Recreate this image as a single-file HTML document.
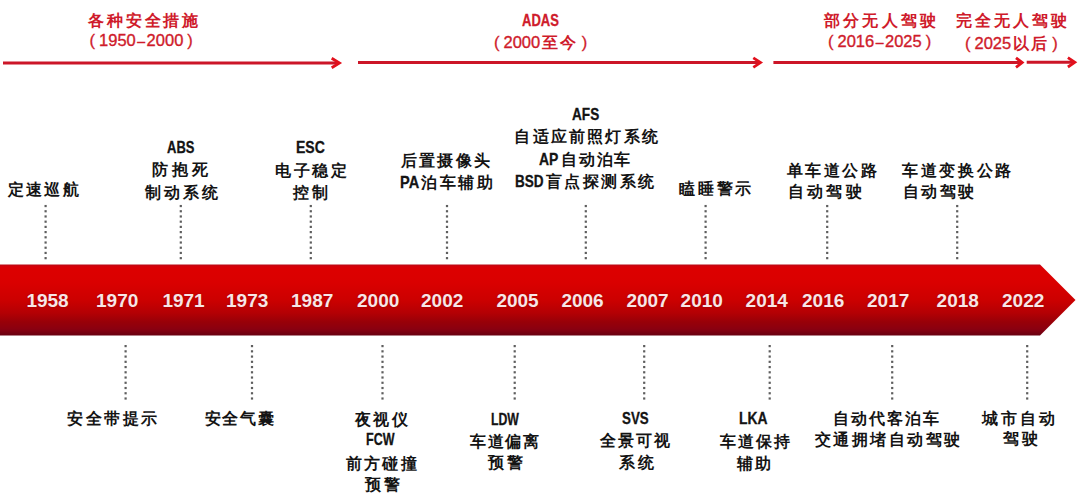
<!DOCTYPE html>
<html><head><meta charset="utf-8"><style>
html,body{margin:0;padding:0;background:#fff;width:1080px;height:493px;overflow:hidden}
#c{position:relative;width:1080px;height:493px}
svg{position:absolute;left:0;top:0}
.t{position:absolute;white-space:nowrap;font-family:"Liberation Sans",sans-serif;font-weight:bold;font-size:15.5px;line-height:16px;letter-spacing:2.5px;color:#141414}
.t .lat{display:inline-block;font-size:17.0px;letter-spacing:0;transform-origin:0 50%;-webkit-text-stroke:0.3px #141414}
.red{color:#cf1b2b;font-size:16px;letter-spacing:2.8px}
.red .lat{font-size:16px;-webkit-text-stroke:0.3px #cf1b2b}
.red .num{font-weight:normal;font-size:16.5px;letter-spacing:0;-webkit-text-stroke:0.35px #cf1b2b}
.dash{font-size:14px;margin:0 1.5px}
.pl,.pr{font-weight:normal;font-size:16.5px;letter-spacing:0;-webkit-text-stroke:0.3px #cf1b2b}
.pl{margin-right:4px} .pr{margin-left:4px}
.yr{color:#f8e6e6;font-size:19px;line-height:19px;letter-spacing:0;text-shadow:0 0 2px rgba(110,0,10,.55)}
</style></head><body><div id="c">
<svg width="1080" height="493" viewBox="0 0 1080 493">
<defs><linearGradient id="g" x1="0" y1="0" x2="0" y2="1">
<stop offset="0" stop-color="#b80c16"/><stop offset="0.03" stop-color="#d80008"/><stop offset="0.08" stop-color="#dc0000"/><stop offset="0.25" stop-color="#da0000"/><stop offset="0.5" stop-color="#cc0000"/><stop offset="0.68" stop-color="#b40004"/><stop offset="0.81" stop-color="#980008"/><stop offset="0.91" stop-color="#8a0010"/><stop offset="1" stop-color="#680010"/>
</linearGradient></defs>
<polygon points="0,264.6 1040,264.6 1075.5,300 1040,335.4 0,335.4" fill="url(#g)"/>
<g fill="#5e5e5e"><rect x="44.50" y="204.95" width="2.2" height="2.2"/><rect x="44.50" y="210.16" width="2.2" height="2.2"/><rect x="44.50" y="215.37" width="2.2" height="2.2"/><rect x="44.50" y="220.58" width="2.2" height="2.2"/><rect x="44.50" y="225.79" width="2.2" height="2.2"/><rect x="44.50" y="231.00" width="2.2" height="2.2"/><rect x="44.50" y="236.21" width="2.2" height="2.2"/><rect x="44.50" y="241.42" width="2.2" height="2.2"/><rect x="44.50" y="246.63" width="2.2" height="2.2"/><rect x="44.50" y="251.84" width="2.2" height="2.2"/><rect x="44.50" y="257.05" width="2.2" height="2.2"/><rect x="179.70" y="204.95" width="2.2" height="2.2"/><rect x="179.70" y="210.16" width="2.2" height="2.2"/><rect x="179.70" y="215.37" width="2.2" height="2.2"/><rect x="179.70" y="220.58" width="2.2" height="2.2"/><rect x="179.70" y="225.79" width="2.2" height="2.2"/><rect x="179.70" y="231.00" width="2.2" height="2.2"/><rect x="179.70" y="236.21" width="2.2" height="2.2"/><rect x="179.70" y="241.42" width="2.2" height="2.2"/><rect x="179.70" y="246.63" width="2.2" height="2.2"/><rect x="179.70" y="251.84" width="2.2" height="2.2"/><rect x="179.70" y="257.05" width="2.2" height="2.2"/><rect x="309.70" y="204.95" width="2.2" height="2.2"/><rect x="309.70" y="210.16" width="2.2" height="2.2"/><rect x="309.70" y="215.37" width="2.2" height="2.2"/><rect x="309.70" y="220.58" width="2.2" height="2.2"/><rect x="309.70" y="225.79" width="2.2" height="2.2"/><rect x="309.70" y="231.00" width="2.2" height="2.2"/><rect x="309.70" y="236.21" width="2.2" height="2.2"/><rect x="309.70" y="241.42" width="2.2" height="2.2"/><rect x="309.70" y="246.63" width="2.2" height="2.2"/><rect x="309.70" y="251.84" width="2.2" height="2.2"/><rect x="309.70" y="257.05" width="2.2" height="2.2"/><rect x="445.90" y="204.95" width="2.2" height="2.2"/><rect x="445.90" y="210.16" width="2.2" height="2.2"/><rect x="445.90" y="215.37" width="2.2" height="2.2"/><rect x="445.90" y="220.58" width="2.2" height="2.2"/><rect x="445.90" y="225.79" width="2.2" height="2.2"/><rect x="445.90" y="231.00" width="2.2" height="2.2"/><rect x="445.90" y="236.21" width="2.2" height="2.2"/><rect x="445.90" y="241.42" width="2.2" height="2.2"/><rect x="445.90" y="246.63" width="2.2" height="2.2"/><rect x="445.90" y="251.84" width="2.2" height="2.2"/><rect x="445.90" y="257.05" width="2.2" height="2.2"/><rect x="584.70" y="204.95" width="2.2" height="2.2"/><rect x="584.70" y="210.16" width="2.2" height="2.2"/><rect x="584.70" y="215.37" width="2.2" height="2.2"/><rect x="584.70" y="220.58" width="2.2" height="2.2"/><rect x="584.70" y="225.79" width="2.2" height="2.2"/><rect x="584.70" y="231.00" width="2.2" height="2.2"/><rect x="584.70" y="236.21" width="2.2" height="2.2"/><rect x="584.70" y="241.42" width="2.2" height="2.2"/><rect x="584.70" y="246.63" width="2.2" height="2.2"/><rect x="584.70" y="251.84" width="2.2" height="2.2"/><rect x="584.70" y="257.05" width="2.2" height="2.2"/><rect x="704.50" y="204.95" width="2.2" height="2.2"/><rect x="704.50" y="210.16" width="2.2" height="2.2"/><rect x="704.50" y="215.37" width="2.2" height="2.2"/><rect x="704.50" y="220.58" width="2.2" height="2.2"/><rect x="704.50" y="225.79" width="2.2" height="2.2"/><rect x="704.50" y="231.00" width="2.2" height="2.2"/><rect x="704.50" y="236.21" width="2.2" height="2.2"/><rect x="704.50" y="241.42" width="2.2" height="2.2"/><rect x="704.50" y="246.63" width="2.2" height="2.2"/><rect x="704.50" y="251.84" width="2.2" height="2.2"/><rect x="704.50" y="257.05" width="2.2" height="2.2"/><rect x="826.10" y="204.95" width="2.2" height="2.2"/><rect x="826.10" y="210.16" width="2.2" height="2.2"/><rect x="826.10" y="215.37" width="2.2" height="2.2"/><rect x="826.10" y="220.58" width="2.2" height="2.2"/><rect x="826.10" y="225.79" width="2.2" height="2.2"/><rect x="826.10" y="231.00" width="2.2" height="2.2"/><rect x="826.10" y="236.21" width="2.2" height="2.2"/><rect x="826.10" y="241.42" width="2.2" height="2.2"/><rect x="826.10" y="246.63" width="2.2" height="2.2"/><rect x="826.10" y="251.84" width="2.2" height="2.2"/><rect x="826.10" y="257.05" width="2.2" height="2.2"/><rect x="956.10" y="204.95" width="2.2" height="2.2"/><rect x="956.10" y="210.16" width="2.2" height="2.2"/><rect x="956.10" y="215.37" width="2.2" height="2.2"/><rect x="956.10" y="220.58" width="2.2" height="2.2"/><rect x="956.10" y="225.79" width="2.2" height="2.2"/><rect x="956.10" y="231.00" width="2.2" height="2.2"/><rect x="956.10" y="236.21" width="2.2" height="2.2"/><rect x="956.10" y="241.42" width="2.2" height="2.2"/><rect x="956.10" y="246.63" width="2.2" height="2.2"/><rect x="956.10" y="251.84" width="2.2" height="2.2"/><rect x="956.10" y="257.05" width="2.2" height="2.2"/><rect x="124.50" y="345.00" width="2.2" height="2.2"/><rect x="124.50" y="350.24" width="2.2" height="2.2"/><rect x="124.50" y="355.48" width="2.2" height="2.2"/><rect x="124.50" y="360.72" width="2.2" height="2.2"/><rect x="124.50" y="365.96" width="2.2" height="2.2"/><rect x="124.50" y="371.20" width="2.2" height="2.2"/><rect x="124.50" y="376.44" width="2.2" height="2.2"/><rect x="124.50" y="381.68" width="2.2" height="2.2"/><rect x="124.50" y="386.92" width="2.2" height="2.2"/><rect x="124.50" y="392.16" width="2.2" height="2.2"/><rect x="124.50" y="397.40" width="2.2" height="2.2"/><rect x="250.90" y="345.00" width="2.2" height="2.2"/><rect x="250.90" y="350.24" width="2.2" height="2.2"/><rect x="250.90" y="355.48" width="2.2" height="2.2"/><rect x="250.90" y="360.72" width="2.2" height="2.2"/><rect x="250.90" y="365.96" width="2.2" height="2.2"/><rect x="250.90" y="371.20" width="2.2" height="2.2"/><rect x="250.90" y="376.44" width="2.2" height="2.2"/><rect x="250.90" y="381.68" width="2.2" height="2.2"/><rect x="250.90" y="386.92" width="2.2" height="2.2"/><rect x="250.90" y="392.16" width="2.2" height="2.2"/><rect x="250.90" y="397.40" width="2.2" height="2.2"/><rect x="381.40" y="345.00" width="2.2" height="2.2"/><rect x="381.40" y="350.24" width="2.2" height="2.2"/><rect x="381.40" y="355.48" width="2.2" height="2.2"/><rect x="381.40" y="360.72" width="2.2" height="2.2"/><rect x="381.40" y="365.96" width="2.2" height="2.2"/><rect x="381.40" y="371.20" width="2.2" height="2.2"/><rect x="381.40" y="376.44" width="2.2" height="2.2"/><rect x="381.40" y="381.68" width="2.2" height="2.2"/><rect x="381.40" y="386.92" width="2.2" height="2.2"/><rect x="381.40" y="392.16" width="2.2" height="2.2"/><rect x="381.40" y="397.40" width="2.2" height="2.2"/><rect x="513.60" y="345.00" width="2.2" height="2.2"/><rect x="513.60" y="350.24" width="2.2" height="2.2"/><rect x="513.60" y="355.48" width="2.2" height="2.2"/><rect x="513.60" y="360.72" width="2.2" height="2.2"/><rect x="513.60" y="365.96" width="2.2" height="2.2"/><rect x="513.60" y="371.20" width="2.2" height="2.2"/><rect x="513.60" y="376.44" width="2.2" height="2.2"/><rect x="513.60" y="381.68" width="2.2" height="2.2"/><rect x="513.60" y="386.92" width="2.2" height="2.2"/><rect x="513.60" y="392.16" width="2.2" height="2.2"/><rect x="513.60" y="397.40" width="2.2" height="2.2"/><rect x="643.10" y="345.00" width="2.2" height="2.2"/><rect x="643.10" y="350.24" width="2.2" height="2.2"/><rect x="643.10" y="355.48" width="2.2" height="2.2"/><rect x="643.10" y="360.72" width="2.2" height="2.2"/><rect x="643.10" y="365.96" width="2.2" height="2.2"/><rect x="643.10" y="371.20" width="2.2" height="2.2"/><rect x="643.10" y="376.44" width="2.2" height="2.2"/><rect x="643.10" y="381.68" width="2.2" height="2.2"/><rect x="643.10" y="386.92" width="2.2" height="2.2"/><rect x="643.10" y="392.16" width="2.2" height="2.2"/><rect x="643.10" y="397.40" width="2.2" height="2.2"/><rect x="768.60" y="345.00" width="2.2" height="2.2"/><rect x="768.60" y="350.24" width="2.2" height="2.2"/><rect x="768.60" y="355.48" width="2.2" height="2.2"/><rect x="768.60" y="360.72" width="2.2" height="2.2"/><rect x="768.60" y="365.96" width="2.2" height="2.2"/><rect x="768.60" y="371.20" width="2.2" height="2.2"/><rect x="768.60" y="376.44" width="2.2" height="2.2"/><rect x="768.60" y="381.68" width="2.2" height="2.2"/><rect x="768.60" y="386.92" width="2.2" height="2.2"/><rect x="768.60" y="392.16" width="2.2" height="2.2"/><rect x="768.60" y="397.40" width="2.2" height="2.2"/><rect x="891.10" y="345.00" width="2.2" height="2.2"/><rect x="891.10" y="350.24" width="2.2" height="2.2"/><rect x="891.10" y="355.48" width="2.2" height="2.2"/><rect x="891.10" y="360.72" width="2.2" height="2.2"/><rect x="891.10" y="365.96" width="2.2" height="2.2"/><rect x="891.10" y="371.20" width="2.2" height="2.2"/><rect x="891.10" y="376.44" width="2.2" height="2.2"/><rect x="891.10" y="381.68" width="2.2" height="2.2"/><rect x="891.10" y="386.92" width="2.2" height="2.2"/><rect x="891.10" y="392.16" width="2.2" height="2.2"/><rect x="891.10" y="397.40" width="2.2" height="2.2"/><rect x="1026.10" y="345.00" width="2.2" height="2.2"/><rect x="1026.10" y="350.24" width="2.2" height="2.2"/><rect x="1026.10" y="355.48" width="2.2" height="2.2"/><rect x="1026.10" y="360.72" width="2.2" height="2.2"/><rect x="1026.10" y="365.96" width="2.2" height="2.2"/><rect x="1026.10" y="371.20" width="2.2" height="2.2"/><rect x="1026.10" y="376.44" width="2.2" height="2.2"/><rect x="1026.10" y="381.68" width="2.2" height="2.2"/><rect x="1026.10" y="386.92" width="2.2" height="2.2"/><rect x="1026.10" y="392.16" width="2.2" height="2.2"/><rect x="1026.10" y="397.40" width="2.2" height="2.2"/></g>
<g stroke="#cc1628" stroke-width="3" fill="none" stroke-linecap="butt"><line x1="3" y1="63.0" x2="338.6" y2="63.0"/><polyline stroke="#e2101c" stroke-width="2.8" points="331.7,58.3 339.40000000000003,63.0 331.7,67.7"/><line x1="358" y1="62.6" x2="759.7" y2="62.6"/><polyline stroke="#e2101c" stroke-width="2.8" points="753.3,57.9 760.5,62.6 753.3,67.3"/><line x1="773.4" y1="62.6" x2="1021.4000000000001" y2="62.6"/><polyline stroke="#e2101c" stroke-width="2.8" points="1016.0,57.9 1022.2,62.6 1016.0,67.3"/><line x1="1026.7" y1="62.3" x2="1074" y2="62.3"/><polyline stroke="#e2101c" stroke-width="2.8" points="1067.9,57.599999999999994 1074.8,62.3 1067.9,67.0"/></g>
</svg>
<div class="t red" style="left:88.00px;top:13.10px;letter-spacing:2.84px">各种安全措施</div>
<div class="t red" style="left:89.60px;top:31.50px"><span class="pl">(</span><span class="num">1950<span class="dash">–</span>2000</span><span class="pr">)</span></div>
<div class="t red" style="left:522.00px;top:13.30px"><span class="lat" style="transform:scaleX(0.812);margin-right:-8.52px">ADAS</span></div>
<div class="t red" style="left:494.00px;top:33.90px;letter-spacing:1.80px"><span class="pl">(</span><span class="num" style="margin-right:2px">2000</span>至今<span class="pr">)</span></div>
<div class="t red" style="left:824.20px;top:13.10px;letter-spacing:3.12px">部分无人驾驶</div>
<div class="t red" style="left:828.00px;top:32.90px"><span class="pl">(</span><span class="num">2016<span class="dash">–</span>2025</span><span class="pr">)</span></div>
<div class="t red" style="left:956.00px;top:13.10px;letter-spacing:3.02px">完全无人驾驶</div>
<div class="t red" style="left:965.00px;top:34.70px;letter-spacing:1.55px"><span class="pl">(</span><span class="num" style="margin-right:2px">2025</span>以后<span class="pr">)</span></div>
<div class="t blk" style="left:7.60px;top:181.50px;letter-spacing:2.44px">定速巡航</div>
<div class="t blk" style="left:167.00px;top:140.30px"><span class="lat" style="transform:scaleX(0.764);margin-right:-8.47px">ABS</span></div>
<div class="t blk" style="left:152.40px;top:162.30px;letter-spacing:3.80px">防抱死</div>
<div class="t blk" style="left:144.60px;top:185.10px;letter-spacing:3.16px">制动系统</div>
<div class="t blk" style="left:296.00px;top:140.30px"><span class="lat" style="transform:scaleX(0.826);margin-right:-6.08px">ESC</span></div>
<div class="t blk" style="left:275.00px;top:163.30px;letter-spacing:2.59px">电子稳定</div>
<div class="t blk" style="left:293.00px;top:185.10px">控制</div>
<div class="t blk" style="left:400.60px;top:152.70px;letter-spacing:2.43px">后置摄像头</div>
<div class="t blk" style="left:399.60px;top:174.50px"><span class="lat" style="transform:scaleX(0.856);margin-right:-0.72px">PA</span>泊车辅助</div>
<div class="t blk" style="left:572.00px;top:106.90px"><span class="lat" style="transform:scaleX(0.800);margin-right:-6.80px">AFS</span></div>
<div class="t blk" style="left:514.40px;top:128.50px;letter-spacing:2.21px">自适应前照灯系统</div>
<div class="t blk" style="left:539.20px;top:152.10px;letter-spacing:1.80px"><span class="lat" style="transform:scaleX(0.819);margin-right:-1.77px">AP</span>自动泊车</div>
<div class="t blk" style="left:515.40px;top:173.70px"><span class="lat" style="transform:scaleX(0.798);margin-right:-5.45px">BSD</span>盲点探测系统</div>
<div class="t blk" style="left:679.40px;top:180.70px;letter-spacing:2.57px">瞌睡警示</div>
<div class="t blk" style="left:787.00px;top:162.70px;letter-spacing:2.45px">单车道公路</div>
<div class="t blk" style="left:787.60px;top:183.70px;letter-spacing:3.31px">自动驾驶</div>
<div class="t blk" style="left:902.40px;top:162.70px;letter-spacing:2.54px">车道变换公路</div>
<div class="t blk" style="left:903.00px;top:183.70px;letter-spacing:2.41px">自动驾驶</div>
<div class="t blk" style="left:67.00px;top:410.70px;letter-spacing:2.62px">安全带提示</div>
<div class="t blk" style="left:204.60px;top:410.70px;letter-spacing:1.78px">安全气囊</div>
<div class="t blk" style="left:354.60px;top:411.90px;letter-spacing:2.75px">夜视仪</div>
<div class="t blk" style="left:366.00px;top:431.50px"><span class="lat" style="transform:scaleX(0.736);margin-right:-10.22px">FCW</span></div>
<div class="t blk" style="left:346.00px;top:456.30px;letter-spacing:2.17px">前方碰撞</div>
<div class="t blk" style="left:365.00px;top:477.10px">预警</div>
<div class="t blk" style="left:490.80px;top:411.70px"><span class="lat" style="transform:scaleX(0.722);margin-right:-10.76px">LDW</span></div>
<div class="t blk" style="left:470.00px;top:433.50px;letter-spacing:1.50px">车道偏离</div>
<div class="t blk" style="left:488.00px;top:455.30px">预警</div>
<div class="t blk" style="left:622.00px;top:410.50px"><span class="lat" style="transform:scaleX(0.785);margin-right:-7.31px">SVS</span></div>
<div class="t blk" style="left:600.40px;top:432.50px;letter-spacing:1.84px">全景可视</div>
<div class="t blk" style="left:619.40px;top:455.30px">系统</div>
<div class="t blk" style="left:739.40px;top:410.50px"><span class="lat" style="transform:scaleX(0.814);margin-right:-6.50px">LKA</span></div>
<div class="t blk" style="left:719.60px;top:433.50px;letter-spacing:2.17px">车道保持</div>
<div class="t blk" style="left:736.60px;top:456.30px">辅助</div>
<div class="t blk" style="left:832.80px;top:410.70px;letter-spacing:2.14px">自动代客泊车</div>
<div class="t blk" style="left:814.60px;top:431.70px;letter-spacing:2.51px">交通拥堵自动驾驶</div>
<div class="t blk" style="left:982.00px;top:410.70px;letter-spacing:3.10px">城市自动</div>
<div class="t blk" style="left:1003.00px;top:431.10px">驾驶</div>
<div class="t yr" style="left:26.40px;top:291.20px">1958</div>
<div class="t yr" style="left:96.00px;top:291.20px">1970</div>
<div class="t yr" style="left:162.40px;top:291.20px">1971</div>
<div class="t yr" style="left:226.00px;top:291.20px">1973</div>
<div class="t yr" style="left:291.00px;top:291.20px">1987</div>
<div class="t yr" style="left:357.00px;top:291.20px">2000</div>
<div class="t yr" style="left:421.00px;top:291.20px">2002</div>
<div class="t yr" style="left:496.40px;top:291.20px">2005</div>
<div class="t yr" style="left:561.40px;top:291.20px">2006</div>
<div class="t yr" style="left:626.40px;top:291.20px">2007</div>
<div class="t yr" style="left:680.60px;top:291.20px">2010</div>
<div class="t yr" style="left:745.60px;top:291.20px">2014</div>
<div class="t yr" style="left:802.00px;top:291.20px">2016</div>
<div class="t yr" style="left:867.00px;top:291.20px">2017</div>
<div class="t yr" style="left:936.60px;top:291.20px">2018</div>
<div class="t yr" style="left:1002.00px;top:291.20px">2022</div>
</div></body></html>
